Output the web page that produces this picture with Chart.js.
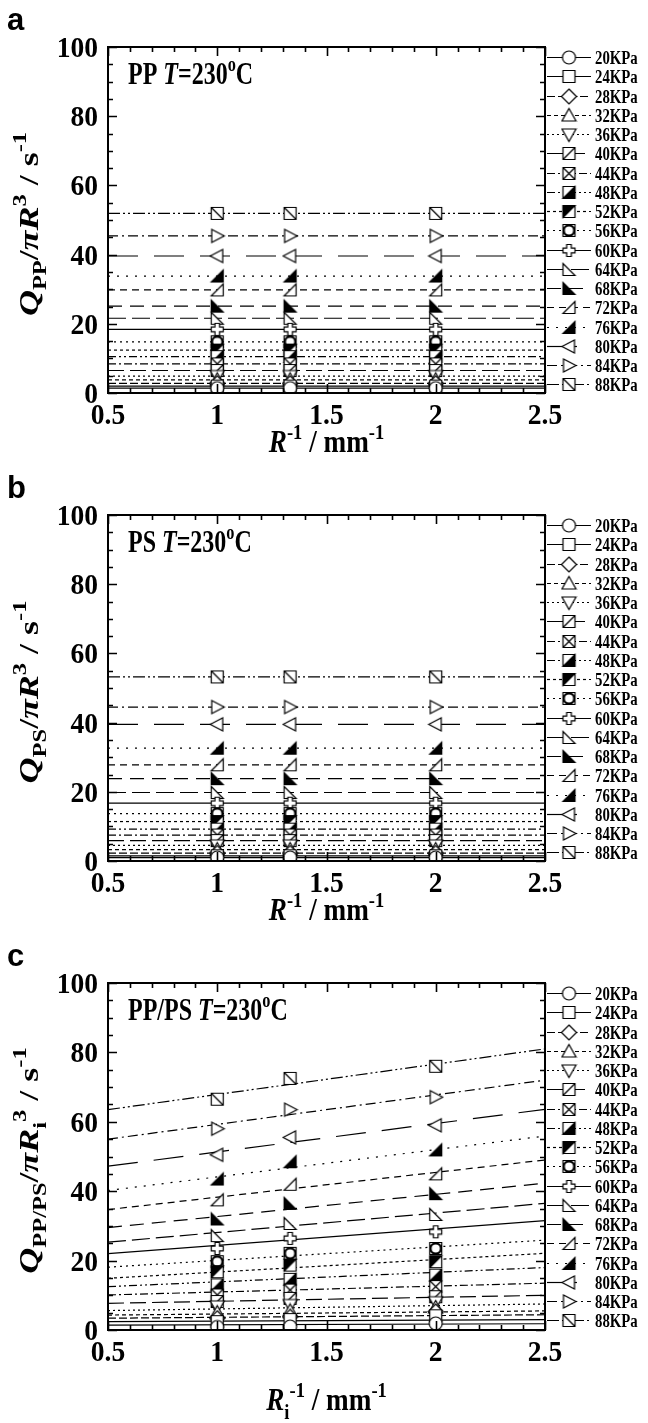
<!DOCTYPE html>
<html>
<head>
<meta charset="utf-8">
<script src="https://cdn.jsdelivr.net/npm/chart.js@4.4.1/dist/chart.umd.min.js"></script>
<style>
  body { margin: 0; background: #fff; width: 648px; height: 1423px; overflow: hidden; }
  .panel { position: absolute; left: 0; width: 648px; }
</style>
</head>
<body>
<div class="panel" style="top:0"><canvas id="chart-a" width="648" height="468"></canvas></div>
<div class="panel" style="top:468px"><canvas id="chart-b" width="648" height="468"></canvas></div>
<div class="panel" style="top:936px"><canvas id="chart-c" width="648" height="487"></canvas></div>
<script>

// capillary pressures, one series each
var pressures = ["20KPa", "24KPa", "28KPa", "32KPa", "36KPa", "40KPa", "44KPa", "48KPa", "52KPa",
                 "56KPa", "60KPa", "64KPa", "68KPa", "72KPa", "76KPa", "80KPa", "84KPa", "88KPa"];

// 1/R of the three dies, mm^-1
var invRadius = [1, 4 / 3, 2];

var xTicks = [0.5, 1, 1.5, 2, 2.5];
var yTicks = [0, 20, 40, 60, 80, 100];

// PP and PS: flow rate does not depend on R, one level per pressure
var qPP = [1.4, 2.0, 2.8, 3.8, 4.9, 6.5, 8.4, 10.5, 12.4, 14.8, 18.4, 21.6, 25.1, 29.8, 33.8, 39.6, 45.4, 51.9];
var qPS = [1.0, 1.5, 2.3, 3.3, 4.5, 5.9, 7.5, 9.2, 11.4, 13.7, 16.7, 19.8, 23.8, 27.8, 32.6, 39.5, 44.5, 53.2];

// PP/PS blend, measured at 1/R = 1, 4/3, 2
var qBlendR1 = [0.9, 2.4, 3.4, 5.0, 6.8, 8.2, 10.1, 13.0, 16.8, 19.7, 23.5, 27.2, 32.0, 37.5, 43.5, 50.5, 58.0, 66.5];
var qBlendR2 = [1.0, 3.0, 3.8, 5.5, 7.2, 9.1, 11.5, 14.6, 18.7, 22.1, 26.4, 30.7, 36.5, 42.0, 48.5, 55.5, 63.5, 72.5];
var qBlendR3 = [1.9, 4.1, 5.3, 6.5, 8.0, 9.6, 12.5, 15.8, 19.7, 23.5, 28.3, 33.3, 39.3, 45.0, 51.9, 59.0, 67.1, 76.0];

// linear fits of the blend, values at 1/R = 0.5 and 2.5
var fitBlendLo = [1.4, 2.4, 3.4, 4.3, 5.6, 7.7, 10.1, 12.5, 14.9, 18.1, 22.0, 25.3, 29.5, 34.7, 40.2, 47.2, 55.0, 63.5];
var fitBlendHi = [1.8, 3.0, 4.4, 5.5, 7.5, 10.0, 13.5, 18.0, 22.1, 25.9, 31.5, 36.5, 42.3, 49.0, 55.9, 63.6, 72.0, 81.0];

var dashes = [[], [], [8, 3], [4, 3], [2, 3], [16, 6], [8, 3, 2, 3], [8, 3, 2, 3, 2, 3], [3, 3],
              [2, 4], [], [18, 6], [14, 8], [7, 5], [2, 7], [30, 16], [10, 4, 2, 4], [12, 3, 2, 3, 2, 3]];
var shapes = ["circle", "square", "diamond", "triUp", "triDown", "sqSlash", "sqCross", "sqHalfLR", "sqHalfUL",
              "circleBold", "plus", "rtriL", "rtriLFill", "rtriR", "rtriRFill", "triLeft", "triRight", "sqBackslash"];

var SERIF = '"Liberation Serif", "Times New Roman", serif';

function makeMarker(kind) {
    var s = 17, c = document.createElement("canvas");
    c.width = s; c.height = s;
    var g = c.getContext("2d");
    g.translate(s / 2, s / 2);
    g.lineWidth = 1.2;
    g.strokeStyle = "#000";
    g.fillStyle = "#fff";
    var r = 6;

    function poly(pts, fill) {
        g.beginPath();
        g.moveTo(pts[0][0], pts[0][1]);
        for (var i = 1; i < pts.length; i++) g.lineTo(pts[i][0], pts[i][1]);
        g.closePath();
        g.fillStyle = fill || "#fff";
        g.fill();
        g.stroke();
    }
    function line(x1, y1, x2, y2) {
        g.beginPath(); g.moveTo(x1, y1); g.lineTo(x2, y2); g.stroke();
    }
    var sq = [[-r, -r], [r, -r], [r, r], [-r, r]];

    switch (kind) {
        case "circle":
            g.beginPath(); g.arc(0, 0, r + 0.5, 0, Math.PI * 2); g.fill(); g.stroke(); break;
        case "circleBold":
            poly(sq);
            g.lineWidth = 2.2;
            g.beginPath(); g.arc(0, 0, r - 0.8, 0, Math.PI * 2); g.stroke(); break;
        case "square": poly(sq); break;
        case "diamond": poly([[0, -r - 1.5], [r + 1.5, 0], [0, r + 1.5], [-r - 1.5, 0]]); break;
        case "triUp": poly([[0, -r - 1], [r + 1, r - 0.5], [-r - 1, r - 0.5]]); break;
        case "triDown": poly([[0, r + 1], [r + 1, -r + 0.5], [-r - 1, -r + 0.5]]); break;
        case "triLeft": poly([[-r - 1, 0], [r - 0.5, -r - 0.5], [r - 0.5, r + 0.5]]); break;
        case "triRight": poly([[r + 1, 0], [-r + 0.5, -r - 0.5], [-r + 0.5, r + 0.5]]); break;
        case "sqSlash": poly(sq); line(-r, r, r, -r); break;
        case "sqBackslash": poly(sq); line(-r, -r, r, r); break;
        case "sqCross": poly(sq); line(-r, r, r, -r); line(-r, -r, r, r); break;
        case "sqHalfLR": poly(sq); poly([[r, -r], [r, r], [-r, r]], "#000"); break;
        case "sqHalfUL": poly(sq); poly([[-r, -r], [r, -r], [-r, r]], "#000"); break;
        case "plus":
            var a = 2.3;
            poly([[-a, -r], [a, -r], [a, -a], [r, -a], [r, a], [a, a], [a, r], [-a, r], [-a, a], [-r, a], [-r, -a], [-a, -a]]);
            break;
        case "rtriL": poly([[-r, -r], [-r, r], [r, r]]); break;
        case "rtriLFill": poly([[-r, -r], [-r, r], [r, r]], "#000"); break;
        case "rtriR": poly([[r, -r], [r, r], [-r, r]]); break;
        case "rtriRFill": poly([[r, -r], [r, r], [-r, r]], "#000"); break;
    }
    return c;
}

var markers = shapes.map(makeMarker);

// rich text: parts like {t, it, sub, sup}
function richWidth(ctx, parts, size) {
    var w = 0;
    parts.forEach(function (p) {
        var fs = (p.sub || p.sup) ? size * 0.68 : size;
        ctx.font = (p.it ? "italic " : "") + "bold " + fs + "px " + SERIF;
        w += ctx.measureText(p.t).width;
    });
    return w;
}
function drawRich(ctx, parts, size) {
    var x = 0;
    parts.forEach(function (p) {
        var fs = (p.sub || p.sup) ? size * 0.68 : size;
        ctx.font = (p.it ? "italic " : "") + "bold " + fs + "px " + SERIF;
        var dy = p.sub ? size * 0.28 : (p.sup ? -size * 0.42 : 0);
        ctx.fillText(p.t, x, dy);
        x += ctx.measureText(p.t).width;
    });
}

var decor = {
    id: "decor",
    afterDraw: function (chart, args, o) {
        var ctx = chart.ctx, area = chart.chartArea;
        var xs = chart.scales.x, ys = chart.scales.y;
        var i, v, px, py, len;
        ctx.save();
        ctx.fillStyle = "#000";
        ctx.strokeStyle = "#000";

        // frame and inward ticks on all four sides
        ctx.lineWidth = 2;
        ctx.strokeRect(area.left, area.top, area.right - area.left, area.bottom - area.top);
        ctx.lineWidth = 1.6;
        for (i = 0; i <= 20; i++) {
            v = 0.5 + i * 0.1;
            px = Math.round(xs.getPixelForValue(v)) + 0.5;
            len = (i % 5 === 0) ? 9 : 5;
            ctx.beginPath();
            ctx.moveTo(px, area.bottom); ctx.lineTo(px, area.bottom - len);
            ctx.moveTo(px, area.top); ctx.lineTo(px, area.top + len);
            ctx.stroke();
        }
        for (i = 0; i <= 20; i++) {
            v = i * 5;
            py = Math.round(ys.getPixelForValue(v)) + 0.5;
            len = (i % 4 === 0) ? 9 : 5;
            ctx.beginPath();
            ctx.moveTo(area.left, py); ctx.lineTo(area.left + len, py);
            ctx.moveTo(area.right, py); ctx.lineTo(area.right - len, py);
            ctx.stroke();
        }

        // tick labels
        ctx.textBaseline = "alphabetic";
        ctx.font = "bold 29px " + SERIF;
        xTicks.forEach(function (t) {
            var s = String(t);
            var w = ctx.measureText(s).width * 0.95;
            ctx.save();
            ctx.translate(xs.getPixelForValue(t) - w / 2, area.bottom + 31);
            ctx.scale(0.95, 1);
            ctx.fillText(s, 0, 0);
            ctx.restore();
        });
        yTicks.forEach(function (t) {
            var s = String(t);
            var w = ctx.measureText(s).width * 0.95;
            ctx.save();
            ctx.translate(area.left - 10 - w, ys.getPixelForValue(t) + 10);
            ctx.scale(0.95, 1);
            ctx.fillText(s, 0, 0);
            ctx.restore();
        });

        // axis titles
        var w = richWidth(ctx, o.xTitle, 32) * 0.85;
        ctx.save();
        ctx.translate((area.left + area.right) / 2 - w / 2, o.xTitleY);
        ctx.scale(0.85, 1);
        drawRich(ctx, o.xTitle, 32);
        ctx.restore();

        w = richWidth(ctx, o.yTitle, 36);
        ctx.save();
        ctx.translate(38, (area.top + area.bottom) / 2 + 4 + w / 2);
        ctx.rotate(-Math.PI / 2);
        ctx.scale(1, 0.78);
        drawRich(ctx, o.yTitle, 36);
        ctx.restore();

        // label inside the plot
        ctx.save();
        ctx.translate(area.left + 20, area.top + 37);
        ctx.scale(0.75, 1);
        drawRich(ctx, o.note, 32);
        ctx.restore();

        // panel letter
        ctx.font = "bold 31px \"Liberation Sans\", Arial, sans-serif";
        ctx.fillText(o.letter, 7, 30);

        // legend to the right of the frame
        var lx = area.right + 2, ly = area.top + 10, step = 19.25;
        for (i = 0; i < pressures.length; i++) {
            py = Math.round(ly + i * step) + 0.5;
            ctx.lineWidth = 1.2;
            ctx.setLineDash(dashes[i]);
            ctx.beginPath(); ctx.moveTo(lx, py); ctx.lineTo(lx + 44, py); ctx.stroke();
            ctx.setLineDash([]);
            ctx.drawImage(markers[i], lx + 22 - markers[i].width / 2, py - markers[i].height / 2);
            ctx.save();
            ctx.font = "bold 18px " + SERIF;
            ctx.translate(lx + 48, py + 6);
            ctx.scale(0.82, 1);
            ctx.fillText(pressures[i], 0, 0);
            ctx.restore();
        }
        ctx.restore();
    }
};

function buildDatasets(lo, hi, pts) {
    var sets = [];
    pressures.forEach(function (p, i) {
        sets.push({
            label: p + " fit",
            data: [{ x: 0.5, y: lo[i] }, { x: 2.5, y: hi[i] }],
            borderColor: "#000",
            borderWidth: 1.2,
            borderDash: dashes[i],
            pointRadius: 0,
            showLine: true,
            order: 2
        });
    });
    pressures.forEach(function (p, i) {
        sets.push({
            label: p,
            data: invRadius.map(function (x, k) { return { x: x, y: pts[k][i] }; }),
            showLine: false,
            pointStyle: markers[i],
            pointRadius: 6,
            order: 1
        });
    });
    return sets;
}

function makeChart(id, datasets, decorOpts, bottomPad) {
    return new Chart(id, {
        type: "scatter",
        data: { datasets: datasets },
        options: {
            responsive: false,
            animation: false,
            events: [],
            layout: { padding: { left: 108, right: 103, top: 47, bottom: bottomPad } },
            scales: {
                x: { type: "linear", min: 0.5, max: 2.5, display: false },
                y: { type: "linear", min: 0, max: 100, display: false }
            },
            plugins: {
                legend: { display: false },
                tooltip: { enabled: false },
                decor: decorOpts
            }
        },
        plugins: [decor]
    });
}

var xTitleR = [{ t: "R", it: true }, { t: "-1", sup: true }, { t: " / mm" }, { t: "-1", sup: true }];

makeChart("chart-a", buildDatasets(qPP, qPP, [qPP, qPP, qPP]), {
    letter: "a",
    xTitle: xTitleR,
    xTitleY: 452,
    yTitle: [{ t: "Q", it: true }, { t: "PP", sub: true }, { t: "/" }, { t: "\u03c0R", it: true }, { t: "3", sup: true },
             { t: " / s" }, { t: "-1", sup: true }],
    note: [{ t: "PP " }, { t: "T", it: true }, { t: "=230" }, { t: "o", sup: true }, { t: "C" }]
}, 75);

makeChart("chart-b", buildDatasets(qPS, qPS, [qPS, qPS, qPS]), {
    letter: "b",
    xTitle: xTitleR,
    xTitleY: 452,
    yTitle: [{ t: "Q", it: true }, { t: "PS", sub: true }, { t: "/" }, { t: "\u03c0R", it: true }, { t: "3", sup: true },
             { t: " / s" }, { t: "-1", sup: true }],
    note: [{ t: "PS " }, { t: "T", it: true }, { t: "=230" }, { t: "o", sup: true }, { t: "C" }]
}, 75);

makeChart("chart-c", buildDatasets(fitBlendLo, fitBlendHi, [qBlendR1, qBlendR2, qBlendR3]), {
    letter: "c",
    xTitle: [{ t: "R", it: true }, { t: "i", sub: true }, { t: "-1", sup: true }, { t: " / mm" }, { t: "-1", sup: true }],
    xTitleY: 474,
    yTitle: [{ t: "Q", it: true }, { t: "PP/PS", sub: true }, { t: "/" }, { t: "\u03c0R", it: true }, { t: "i", sub: true },
             { t: "3", sup: true }, { t: " / s" }, { t: "-1", sup: true }],
    note: [{ t: "PP/PS " }, { t: "T", it: true }, { t: "=230" }, { t: "o", sup: true }, { t: "C" }]
}, 93);
</script>
</body>
</html>
